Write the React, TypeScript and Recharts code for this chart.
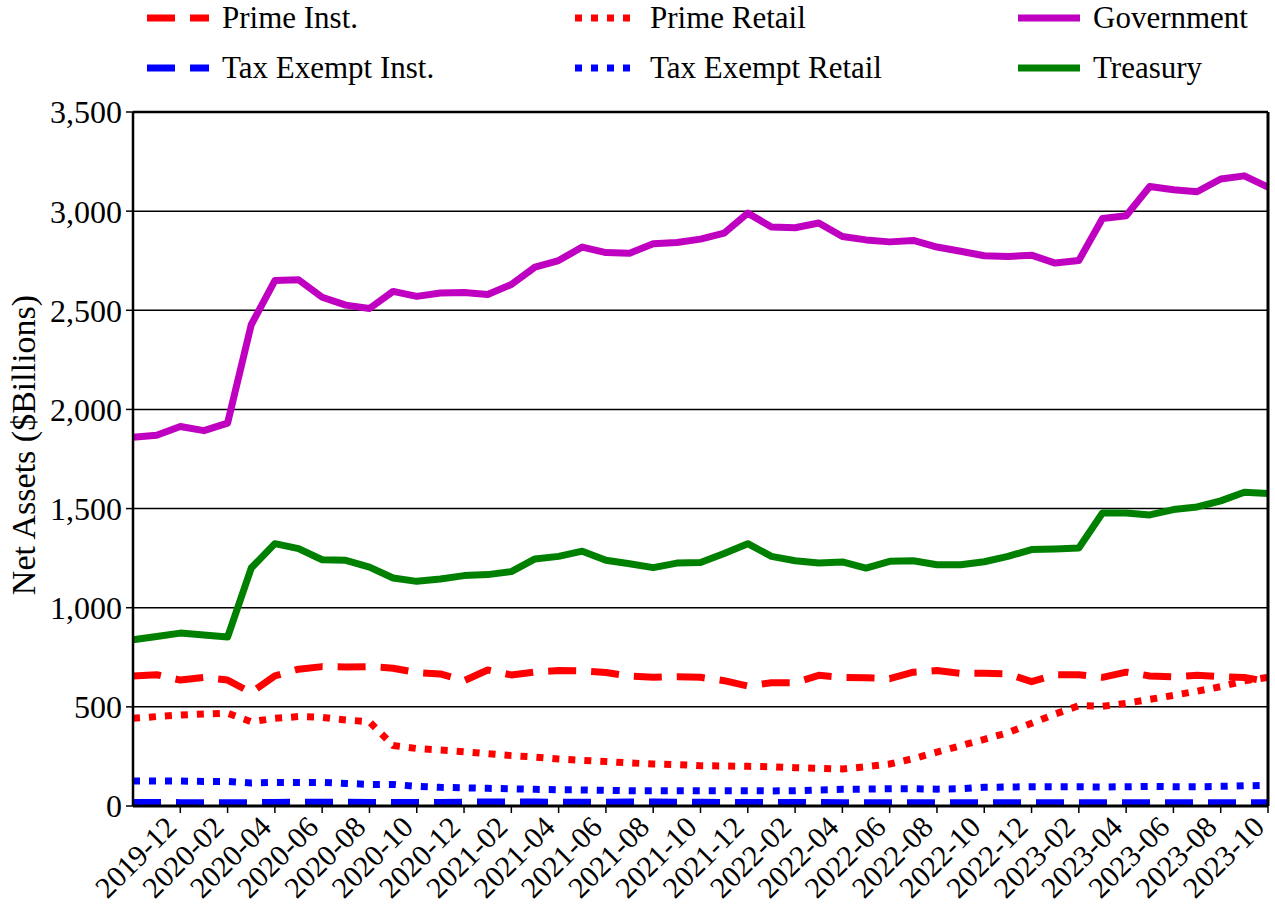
import React from "react";
import {
  LineChart,
  Line,
  XAxis,
  YAxis,
  CartesianGrid,
  ReferenceLine,
  Label,
} from "recharts";

const months = [
  "2019-10", "2019-11", "2019-12",
  "2020-01", "2020-02", "2020-03", "2020-04", "2020-05", "2020-06",
  "2020-07", "2020-08", "2020-09", "2020-10", "2020-11", "2020-12",
  "2021-01", "2021-02", "2021-03", "2021-04", "2021-05", "2021-06",
  "2021-07", "2021-08", "2021-09", "2021-10", "2021-11", "2021-12",
  "2022-01", "2022-02", "2022-03", "2022-04", "2022-05", "2022-06",
  "2022-07", "2022-08", "2022-09", "2022-10", "2022-11", "2022-12",
  "2023-01", "2023-02", "2023-03", "2023-04", "2023-05", "2023-06",
  "2023-07", "2023-08", "2023-09", "2023-10",
];

const tickMonths = [
  "2019-12", "2020-02", "2020-04", "2020-06", "2020-08", "2020-10", "2020-12",
  "2021-02", "2021-04", "2021-06", "2021-08", "2021-10", "2021-12",
  "2022-02", "2022-04", "2022-06", "2022-08", "2022-10", "2022-12",
  "2023-02", "2023-04", "2023-06", "2023-08", "2023-10",
];

const yTicks = [0, 500, 1000, 1500, 2000, 2500, 3000, 3500];

const primeInst = [
  656, 662, 635, 648, 635, 572, 656, 690, 703, 701, 703, 695, 673,
  666, 632, 686, 661, 676, 683, 681, 673, 656, 649, 652, 649, 632,
  605, 622, 622, 659, 649, 647, 642, 675, 683, 669, 669, 666, 627,
  662, 662, 649, 675, 656, 652, 659, 652, 648, 628,
];

const primeRetail = [
  442, 451, 459, 464, 468, 425, 442, 451, 447, 434, 425, 305, 290,
  282, 274, 264, 254, 247, 237, 230, 224, 217, 212, 209, 203, 202,
  200, 198, 193, 190, 187, 198, 212, 239, 272, 304, 336, 370, 417,
  464, 506, 503, 518, 538, 558, 579, 602, 631, 649,
];

const government = [
  1860, 1870, 1914, 1893, 1931, 2427, 2650, 2654, 2566, 2526, 2509, 2595, 2570,
  2587, 2590, 2580, 2630, 2718, 2751, 2819, 2791, 2788, 2835, 2842, 2859, 2889,
  2990, 2920, 2916, 2940, 2872, 2855, 2845, 2852, 2819, 2798, 2775, 2771, 2778,
  2738, 2751, 2963, 2977, 3124, 3108, 3098, 3162, 3178, 3121,
];

const taxExemptInst = [
  18, 18, 17, 17, 17, 17, 18, 19, 19, 19, 18, 18, 18,
  18, 19, 20, 20, 20, 19, 19, 19, 20, 20, 19, 19, 18,
  18, 18, 18, 18, 17, 17, 17, 17, 17, 17, 17, 17, 17,
  17, 16, 16, 16, 16, 16, 16, 16, 16, 16,
];

const taxExemptRetail = [
  126, 126, 126, 124, 124, 116, 119, 119, 119, 114, 109, 109, 99,
  94, 92, 89, 87, 84, 82, 81, 79, 77, 77, 77, 77, 77,
  77, 76, 77, 81, 84, 85, 87, 87, 85, 87, 94, 96, 97,
  97, 97, 96, 97, 99, 97, 97, 99, 102, 104,
];

const treasury = [
  838, 855, 872, 862, 852, 1200, 1323, 1298, 1242, 1239, 1205, 1150, 1133,
  1145, 1162, 1167, 1182, 1246, 1259, 1285, 1239, 1222, 1202, 1225, 1228, 1273,
  1323, 1259, 1237, 1226, 1231, 1200, 1234, 1237, 1217, 1217, 1232, 1259, 1293,
  1296, 1301, 1478, 1478, 1468, 1495, 1508, 1539, 1582, 1576,
];

const FONT = "'Liberation Serif', 'Times New Roman', serif";

const series = [
  { key: "primeInst", name: "Prime Inst.", color: "#ff0000", dash: "28 15", values: primeInst },
  { key: "primeRetail", name: "Prime Retail", color: "#ff0000", dash: "7 9", values: primeRetail },
  { key: "government", name: "Government", color: "#c000c0", dash: undefined, values: government },
  { key: "taxExemptInst", name: "Tax Exempt Inst.", color: "#0000ff", dash: "28 15", values: taxExemptInst },
  { key: "taxExemptRetail", name: "Tax Exempt Retail", color: "#0000ff", dash: "7 9", values: taxExemptRetail },
  { key: "treasury", name: "Treasury", color: "#008000", dash: undefined, values: treasury },
];

const data = months.map((m, i) => {
  const row: any = { month: m };
  series.forEach((s) => {
    row[s.key] = s.values[i];
  });
  return row;
});

const XTick = ({ x, y, payload }: any) => (
  <g transform={`translate(${x - 2},${y + 14})`}>
    <text
      x={0}
      y={0}
      textAnchor="end"
      transform="rotate(-45)"
      fontSize={30}
      fontFamily={FONT}
      fill="#000"
    >
      {payload.value}
    </text>
  </g>
);

// label sits a little above the plot's middle, as in the original
const YLabel = ({ viewBox }: any) => {
  const cy = viewBox.y + viewBox.height / 2 - 14;
  return (
    <text
      x={35}
      y={cy}
      transform={`rotate(-90, 35, ${cy})`}
      textAnchor="middle"
      fontSize={34}
      fontFamily={FONT}
      fill="#000"
    >
      Net Assets ($Billions)
    </text>
  );
};

const legendCols = [147, 575, 1018];
const legendRows = [18, 68];

const ChartLegend = () => (
  <>
    {series.map((s, i) => {
      const left = legendCols[i % 3];
      const top = legendRows[Math.floor(i / 3)];
      return (
        <div
          key={s.key}
          style={{
            position: "absolute",
            left,
            top: top - 20,
            height: 40,
            display: "flex",
            alignItems: "center",
          }}
        >
          <svg width={62} height={10} style={{ display: "block" }}>
            <line
              x1={0}
              y1={5}
              x2={62}
              y2={5}
              stroke={s.color}
              strokeWidth={7}
              strokeDasharray={s.dash}
            />
          </svg>
          <span
            style={{
              marginLeft: 13,
              fontFamily: FONT,
              fontSize: 31,
              color: "#000",
              whiteSpace: "nowrap",
            }}
          >
            {s.name}
          </span>
        </div>
      );
    })}
  </>
);

const App: React.FC = () => {
  return (
    <div
      style={{
        position: "absolute",
        left: 0,
        top: 0,
        width: 1275,
        height: 913,
        background: "#fff",
        fontFamily: FONT,
      }}
    >
      <ChartLegend />
      <LineChart
        width={1275}
        height={913}
        data={data}
        margin={{ top: 112, right: 7, bottom: 7, left: 33 }}
      >
        <CartesianGrid vertical={false} stroke="#000" strokeWidth={1.5} />
        <XAxis
          dataKey="month"
          ticks={tickMonths}
          interval={0}
          height={100}
          tickSize={7}
          tickLine={{ stroke: "#000", strokeWidth: 1.5 }}
          axisLine={{ stroke: "#000", strokeWidth: 3 }}
          tick={<XTick />}
        />
        <YAxis
          domain={[0, 3500]}
          ticks={yTicks}
          width={100}
          tickSize={7}
          tickMargin={4}
          tickLine={{ stroke: "#000", strokeWidth: 1.5 }}
          axisLine={{ stroke: "#000", strokeWidth: 2.5 }}
          tickFormatter={(v: number) => v.toLocaleString("en-US")}
          tick={{ fontSize: 32, fontFamily: FONT, fill: "#000" }}
        >
          <Label content={<YLabel />} />
        </YAxis>
        <ReferenceLine y={3500} stroke="#000" strokeWidth={2.5} />
        {series.map((s) => (
          <Line
            key={s.key}
            type="linear"
            dataKey={s.key}
            name={s.name}
            stroke={s.color}
            strokeWidth={7}
            strokeDasharray={s.dash}
            strokeLinecap="butt"
            strokeLinejoin="round"
            dot={false}
            activeDot={false}
            isAnimationActive={false}
          />
        ))}
        <ReferenceLine x="2023-10" stroke="#000" strokeWidth={3} />
      </LineChart>
    </div>
  );
};

export default App;
